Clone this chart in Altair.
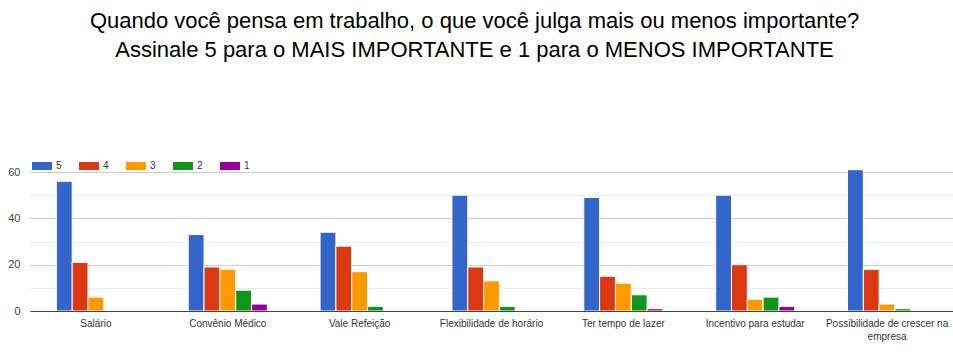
import altair as alt
import pandas as pd

categories = ["Salário", "Convênio Médico", "Vale Refeição", "Flexibilidade de horário",
              "Ter tempo de lazer", "Incentivo para estudar", "Possibilidade de crescer na empresa"]
levels = ["5", "4", "3", "2", "1"]
values_5 = [56, 33, 34, 50, 49, 50, 61]
values_4 = [21, 19, 28, 19, 15, 20, 18]
values_3 = [6, 18, 17, 13, 12, 5, 3]
values_2 = [0, 9, 2, 2, 7, 6, 1]
values_1 = [0, 3, 0, 0, 1, 2, 0]
colors = ["#3366cc", "#dc3912", "#ff9900", "#109618", "#990099"]

series = {"5": values_5, "4": values_4, "3": values_3, "2": values_2, "1": values_1}
rows = []
for lvl in levels:
    for cat, v in zip(categories, series[lvl]):
        rows.append({"categoria": cat, "nota": lvl, "valor": v})
df = pd.DataFrame(rows)

FONT = "Liberation Sans"

chart = alt.Chart(df).mark_bar(stroke="white", strokeWidth=1, clip=False).encode(
    x=alt.X("categoria:N", sort=categories, title=None,
            scale=alt.Scale(paddingInner=0.4, paddingOuter=0.2),
            axis=alt.Axis(labelAngle=0, labelFontSize=10, labelColor="#333333", labelFont=FONT,
                          ticks=False, domainColor="#444444", domainWidth=1, labelPadding=7,
                          labelLimit=200, labelLineHeight=13, zindex=2,
                          labelExpr="datum.label == 'Possibilidade de crescer na empresa' ? ['Possibilidade de crescer na', 'empresa'] : datum.label")),
    xOffset=alt.XOffset("nota:N", sort=levels, scale=alt.Scale(paddingInner=0, paddingOuter=0)),
    y=alt.Y("valor:Q", title=None,
            scale=alt.Scale(domain=[0, 60], nice=False),
            axis=alt.Axis(values=[0, 10, 20, 30, 40, 50, 60],
                          labelExpr="datum.value % 20 === 0 ? datum.label : ''",
                          ticks=False, domain=False, labelFontSize=11, labelColor="#444444",
                          labelFont=FONT, labelPadding=10,
                          gridColor={"condition": {"test": "datum.value % 20 === 0", "value": "#cccccc"},
                                     "value": "#ebebeb"})),
    color=alt.Color("nota:N", sort=levels,
                    scale=alt.Scale(domain=levels, range=colors),
                    legend=alt.Legend(title=None, orient="none", direction="horizontal",
                                      legendX=2, legendY=-16, columns=5, columnPadding=17,
                                      symbolType="M-1,-0.4H1V0.4H-1Z", symbolSize=400,
                                      symbolStrokeWidth=0, labelFontSize=10, labelColor="#333333",
                                      labelFont=FONT, labelOffset=4)),
).properties(
    width=923,
    height=139,
    padding={"left": 30, "top": 172, "right": 0, "bottom": 41},
    autosize=alt.AutoSizeParams(type="none"),
    title=alt.TitleParams(
        text=["Quando você pensa em trabalho, o que você julga mais ou menos importante?",
              "Assinale 5 para o MAIS IMPORTANTE e 1 para o MENOS IMPORTANTE"],
        anchor="middle", frame="group", font=FONT, fontSize=22, fontWeight="normal",
        color="#000000", lineHeight=29, offset=94, dx=-17),
).configure_view(stroke=None).configure_axisX(grid=False)

chart.save("out.html", embed_options={"renderer": "svg", "actions": False})
